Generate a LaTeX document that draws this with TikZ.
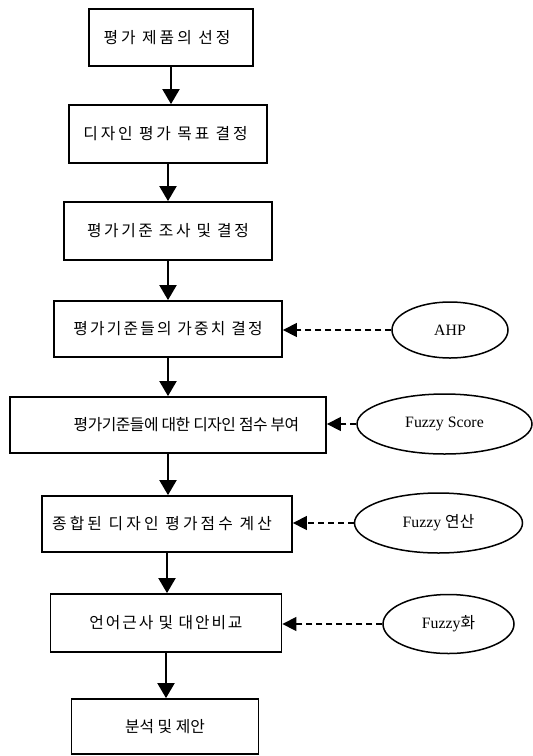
\documentclass[tikz,border=0pt]{standalone}
\usepackage{fontspec}
\setmainfont{Liberation Serif}
\newfontfamily\kor{Noto Sans CJK KR}
\usetikzlibrary{arrows.meta,shapes.geometric}
\begin{document}
\begin{tikzpicture}[x=1pt,y=-1pt,
  stepbox/.style={draw,line width=1.8pt,inner sep=0pt,font=\kor\fontsize{15.8}{18}\selectfont\addfontfeature{LetterSpace=#1}},
  stepbox/.default=0,
  ell/.style={draw,ellipse,line width=1.5pt,inner sep=0pt,font=\fontsize{15.8}{18}\selectfont},
  flow/.style={line width=2pt,-{Triangle[width=17pt,length=15pt]}},
  side/.style={line width=1.3pt,dash pattern=on 6pt off 4pt,-{Triangle[width=14pt,length=14pt]}}]
\useasboundingbox (0,0) rectangle (533,756);
\node[stepbox=19,minimum width=164pt,minimum height=57pt] (b1) at (171,37.5) {평가 제품의 선정\hspace*{8pt}};
\node[stepbox=18,minimum width=198pt,minimum height=58pt] (b2) at (168,134) {디자인 평가 목표 결정\hspace*{5pt}};
\node[stepbox=16,minimum width=208pt,minimum height=58pt] (b3) at (168,231) {평가기준 조사 및 결정};
\node[stepbox=14,minimum width=228pt,minimum height=56pt] (b4) at (168,329) {평가기준들의 가중치 결정};
\node[stepbox=-3,minimum width=316pt,minimum height=56pt] (b5) at (168,425) {\hspace*{37pt}평가기준들에 대한 디자인 점수 부여};
\node[stepbox=20,minimum width=250pt,minimum height=56pt] (b6) at (167,524) {종합된 디자인 평가점수 계산\hspace*{10pt}};
\node[stepbox=12,minimum width=231pt,minimum height=58pt] (b7) at (166,623) {언어근사 및 대안비교};
\node[stepbox=0,minimum width=187pt,minimum height=55pt] (b8) at (165,726.5) {분석 및 제안};
\node[ell,minimum width=116pt,minimum height=56pt] (e1) at (450,330) {AHP};
\node[ell,minimum width=175pt,minimum height=60pt] (e2) at (444.5,424) {Fuzzy Score};
\node[ell,minimum width=168pt,minimum height=60pt] (e3) at (438.5,523) {Fuzzy {\kor 연산}};
\node[ell,minimum width=131pt,minimum height=59pt] (e4) at (448.5,624) {Fuzzy{\kor 화}};
\foreach \a/\b in {b1/b2,b2/b3,b3/b4,b4/b5,b5/b6,b6/b7,b7/b8}
  \draw[flow] (\a.south) -- (\a.south |- \b.north);
\draw[side] (e1.west) -- (e1.west -| b4.east);
\draw[side] (e2.west) -- (e2.west -| b5.east);
\draw[side] (e3.west) -- (e3.west -| b6.east);
\draw[side] (e4.west) -- (e4.west -| b7.east);
\end{tikzpicture}
\end{document}
